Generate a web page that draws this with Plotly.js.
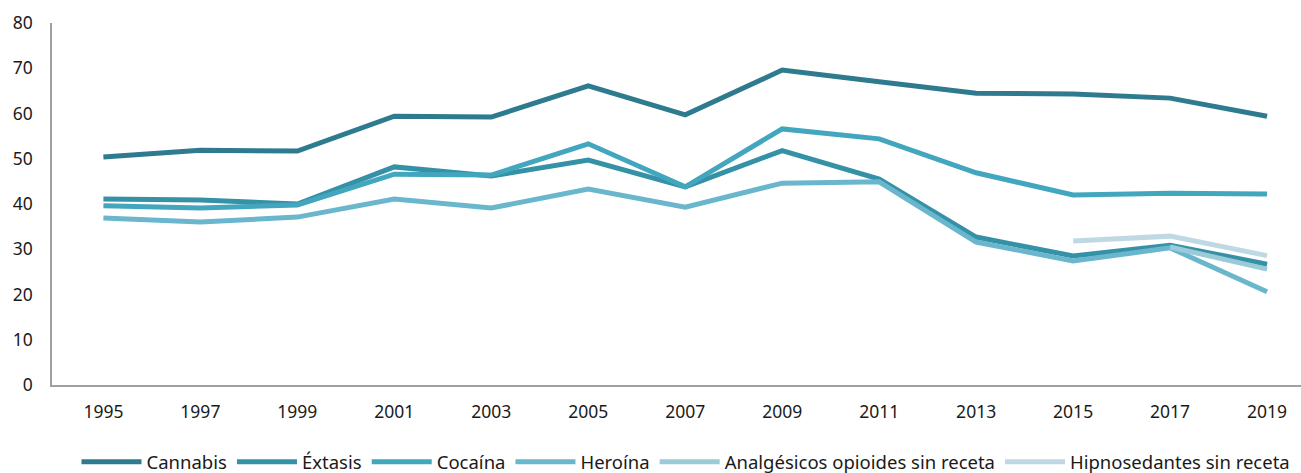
<!DOCTYPE html>
<html>
<head>
<meta charset="utf-8">
<script src="https://cdn.plot.ly/plotly-3.0.1.min.js"></script>
<style>html,body{margin:0;padding:0;background:#fff;}#chart{width:1301px;height:473px;}</style>
</head>
<body>
<div id="chart"></div>
<script>
const years = ["1995","1997","1999","2001","2003","2005","2007","2009","2011","2013","2015","2017","2019"];
const cannabis      = [50.4, 51.9, 51.7, 59.4, 59.2, 66.1, 59.7, 69.6, 67.0, 64.5, 64.3, 63.4, 59.4];
const extasis       = [41.1, 40.9, 40.0, 48.2, 46.2, 49.7, 43.8, 51.8, 45.5, 32.7, 28.5, 30.9, 26.7];
const cocaina       = [39.6, 39.1, 39.8, 46.6, 46.4, 53.3, 43.8, 56.6, 54.4, 46.9, 42.0, 42.4, 42.2];
const heroina       = [36.9, 36.0, 37.1, 41.1, 39.1, 43.3, 39.3, 44.6, 44.9, 31.6, 27.4, 30.3, 20.6];
const analgesicos   = [null, null, null, null, null, null, null, null, null, null, null, 30.5, 25.6];
const hipnosedantes = [null, null, null, null, null, null, null, null, null, null, 31.8, 32.9, 28.6];

const names = ["Cannabis","Éxtasis","Cocaína","Heroína","Analgésicos opioides sin receta","Hipnosedantes sin receta"];
const series = [cannabis, extasis, cocaina, heroina, analgesicos, hipnosedantes];
const colors = ["#2E7B8F","#3591A6","#43A6BF","#6AB6CC","#9BCAD9","#BED9E3"];

const traces = series.map((s, i) => ({
  x: years, y: s, name: names[i], type: "scatter", mode: "lines",
  line: {color: colors[i], width: 5},
  connectgaps: false
}));

const layout = {
  width: 1301, height: 473,
  margin: {l: 52, r: 0, t: 23, b: 88},
  paper_bgcolor: "#fff", plot_bgcolor: "#fff",
  font: {family: "Noto Sans, Open Sans, sans-serif", size: 17.5, color: "#1a1a1a"},
  showlegend: true,
  legend: {orientation: "h", x: 0.5076, xanchor: "center", yref: "container", y: 0.023, yanchor: "middle",
           font: {size: 18.5, color: "#1a1a1a"}, itemwidth: 60, tracegroupgap: 0},
  xaxis: {type: "category", range: [-0.53, 12.35], showgrid: false, zeroline: false, automargin: false,
          showline: true, linecolor: "#A0A0A0", linewidth: 1.5, ticks: "", ticklen: 0,
          tickfont: {size: 17.5}, ticklabelstandoff: 10},
  yaxis: {range: [0, 80], dtick: 10, showgrid: false, zeroline: false, automargin: false,
          showline: true, linecolor: "#A0A0A0", linewidth: 1.5, ticks: "",
          tickfont: {size: 17.5}, ticklabelstandoff: 14}
};

Plotly.newPlot("chart", traces, layout, {displayModeBar: false});
</script>
</body>
</html>
